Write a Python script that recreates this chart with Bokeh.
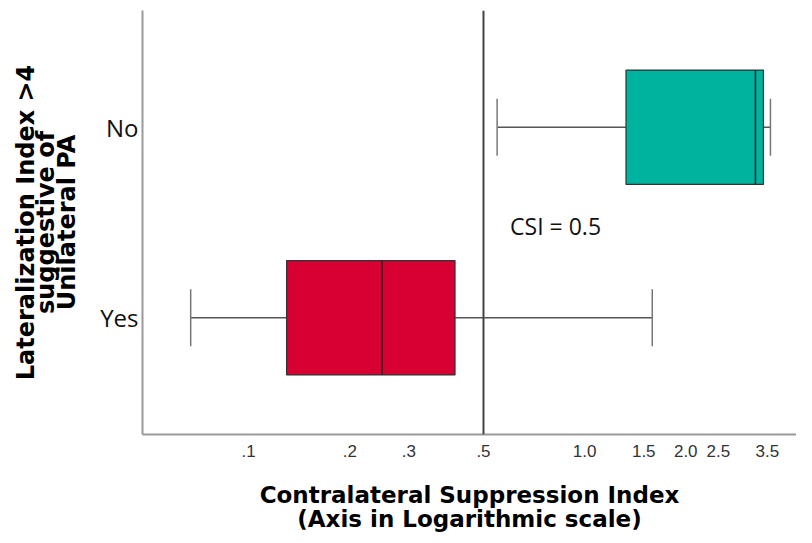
from bokeh.plotting import figure
from bokeh.models import (ColumnDataSource, FactorRange, Range1d, FixedTicker,
                          CustomJSTickFormatter, Span, Label)
from bokeh.transform import dodge
from bokeh.embed import file_html
from bokeh.resources import INLINE

# ---- data ----
groups = ["No", "Yes"]
whisker_low = [0.549, 0.0672]
q1 = [1.328, 0.1297]
median = [3.225, 0.2493]
q3 = [3.407, 0.4114]
whisker_high = [3.574, 1.590]
colors = ["#00B39F", "#D70032"]

tick_values = [0.1, 0.2, 0.3, 0.5, 1.0, 1.5, 2.0, 2.5, 3.5]
tick_labels = [".1", ".2", ".3", ".5", "1.0", "1.5", "2.0", "2.5", "3.5"]
csi_cutoff = 0.5

src = ColumnDataSource(dict(g=groups, lo=whisker_low, q1=q1, med=median,
                            q3=q3, hi=whisker_high, color=colors))

p = figure(width=796, height=535, output_backend="svg", toolbar_location=None,
           x_axis_type="log", x_range=Range1d(0.0483, 4.273),
           y_range=FactorRange(factors=["Yes", "No"], range_padding=0.113,
                               range_padding_units="absolute"),
           min_border_left=142, min_border_right=0, min_border_top=10,
           min_border_bottom=100)

p.outline_line_color = None
p.xgrid.grid_line_color = None
p.ygrid.grid_line_color = None
p.background_fill_color = "white"
p.border_fill_color = "white"

# whiskers
p.segment(x0="lo", x1="q1", y0="g", y1="g", source=src, line_color="#555555", line_width=1.5)
p.segment(x0="q3", x1="hi", y0="g", y1="g", source=src, line_color="#555555", line_width=1.5)
p.segment(x0="lo", x1="lo", y0=dodge("g", -0.15, range=p.y_range),
          y1=dodge("g", 0.15, range=p.y_range), source=src, line_color="#777777", line_width=1.5)
p.segment(x0="hi", x1="hi", y0=dodge("g", -0.15, range=p.y_range),
          y1=dodge("g", 0.15, range=p.y_range), source=src, line_color="#777777", line_width=1.5)

# boxes
p.hbar(y="g", left="q1", right="q3", height=0.6, source=src, fill_color="color",
       line_color="#333333", line_width=1.2)
# medians
p.segment(x0="med", x1="med", y0=dodge("g", -0.3, range=p.y_range),
          y1=dodge("g", 0.3, range=p.y_range), source=src, line_color="#222222", line_width=1.5)

# cutoff line
p.add_layout(Span(location=csi_cutoff, dimension="height", line_color="#444444", line_width=2))
p.add_layout(Label(x=0.60, y=0.98, text="CSI = 0.5", text_font="Open Sans",
                   text_font_size="23px", text_baseline="middle", text_color="#111111"))

# x axis
xa = p.xaxis[0]
xa.ticker = FixedTicker(ticks=tick_values, minor_ticks=[])
xa.formatter = CustomJSTickFormatter(args=dict(vals=tick_values, labs=tick_labels), code="""
    for (let i = 0; i < vals.length; i++) { if (Math.abs(vals[i] - tick) < 1e-9) return labs[i]; }
    return '';
""")
xa.major_tick_line_color = None
xa.minor_tick_line_color = None
xa.axis_line_color = "#9a9a9a"
xa.axis_line_width = 2
xa.major_label_text_font = "Liberation Sans"
xa.major_label_text_font_size = "17px"
xa.major_label_text_color = "#333333"
xa.major_label_standoff = 4
xa.axis_label = "Contralateral Suppression Index\n(Axis in Logarithmic scale)"
xa.axis_label_text_font = "DejaVu Sans"
xa.axis_label_text_font_style = "bold"
xa.axis_label_text_font_size = "23px"
xa.axis_label_text_color = "black"
xa.axis_label_standoff = 22
xa.axis_label_text_line_height = 0.95

# y axis
ya = p.yaxis[0]
ya.major_tick_line_color = None
ya.minor_tick_line_color = None
ya.axis_line_color = "#9a9a9a"
ya.axis_line_width = 2
ya.major_label_text_font = "Open Sans"
ya.major_label_text_font_size = "24px"
ya.major_label_text_color = "#111111"
ya.major_label_standoff = -2
ya.axis_label = "Lateralization Index >4\nsuggestive of\nUnilateral PA"
ya.axis_label_text_font = "DejaVu Sans"
ya.axis_label_text_font_style = "bold"
ya.axis_label_text_font_size = "24px"
ya.axis_label_text_color = "black"
ya.axis_label_standoff = 16
ya.axis_label_text_line_height = 0.74

open("out.html", "w").write(file_html(p, INLINE))
